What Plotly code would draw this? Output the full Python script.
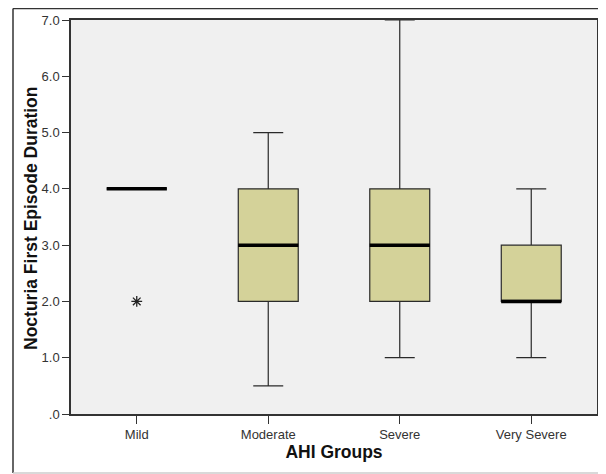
import plotly.graph_objects as go

categories = ["Mild", "Moderate", "Severe", "Very Severe"]
lower_whisker = [4.0, 0.5, 1.0, 1.0]
q1_vals = [4.0, 2.0, 2.0, 2.0]
medians = [4.0, 3.0, 3.0, 2.0]
q3_vals = [4.0, 4.0, 4.0, 3.0]
upper_whisker = [4.0, 5.0, 7.0, 4.0]
outlier_cats = ["Mild"]
outlier_vals = [2.0]

y_ticks = [0, 1, 2, 3, 4, 5, 6, 7]
y_ticklabels = [".0", "1.0", "2.0", "3.0", "4.0", "5.0", "6.0", "7.0"]

FONT = "Arial, Liberation Sans, sans-serif"

fig = go.Figure()
fig.add_trace(go.Box(
    x=categories, q1=q1_vals, median=medians, q3=q3_vals,
    lowerfence=lower_whisker, upperfence=upper_whisker,
    fillcolor="#d4d299", line=dict(color="#2a2a2a", width=1.2),
    width=0.456, whiskerwidth=0.5, boxpoints=False, showlegend=False,
    hoverinfo="skip",
))
# thick median lines
fig.add_trace(go.Scatter(
    x=categories, y=medians, mode="markers",
    marker=dict(symbol="line-ew", size=43, color="black", line=dict(color="black", width=3.5)),
    showlegend=False, hoverinfo="skip",
))
# extreme outlier
fig.add_trace(go.Scatter(
    x=outlier_cats, y=outlier_vals, mode="markers",
    marker=dict(symbol="asterisk-open", size=9, color="#222", line=dict(color="#222", width=1.3)),
    showlegend=False, hoverinfo="skip",
))

# page has an 8px body margin; figure sized so it fits the 606x474 window
OFF = 8
W, H = 606 - OFF, 474 - OFF
L, R, T, B = 71 - OFF, 9, 20 - OFF, 60
pw, ph = W - L - R, H - T - B

def px_x(p):
    return (p - OFF - L) / pw

def px_y(p):
    return (H - B - (p - OFF)) / ph

fig.update_layout(
    width=W, height=H,
    margin=dict(l=L, r=R, t=T, b=B, autoexpand=False),
    paper_bgcolor="white", plot_bgcolor="#f0f0f0",
    font=dict(family=FONT, color="#333"),
    xaxis=dict(
        type="category", categoryorder="array", categoryarray=categories,
        range=[-0.5, 3.5], showgrid=False, zeroline=False, automargin=False,
        showline=True, linecolor="#333", linewidth=1.5, mirror=True,
        ticks="outside", ticklen=8, tickcolor="#333", tickwidth=1.2,
        tickfont=dict(size=13, color="#333"),
        title=dict(text="<b>AHI Groups</b>", font=dict(size=17.5, color="#111"), standoff=2),
    ),
    yaxis=dict(
        range=[0, 7], tickvals=y_ticks, ticktext=y_ticklabels,
        showgrid=False, zeroline=False, automargin=False,
        showline=True, linecolor="#333", linewidth=1.5, mirror=True,
        ticks="outside", ticklen=7, tickcolor="#333", tickwidth=1.2,
        tickfont=dict(size=13, color="#333"),
    ),
    annotations=[
        dict(text="<b>Nocturia First Episode Duration</b>", textangle=-90,
             xref="paper", yref="paper", x=px_x(31), y=px_y(218),
             xanchor="center", yanchor="middle", showarrow=False,
             font=dict(size=17.5, color="#111")),
    ],
    shapes=[
        dict(type="line", xref="paper", yref="paper", x0=px_x(13), x1=px_x(606), y0=px_y(8.5), y1=px_y(8.5),
             line=dict(color="#333", width=1.5)),
        dict(type="line", xref="paper", yref="paper", x0=px_x(13), x1=px_x(13), y0=px_y(8.5), y1=px_y(473),
             line=dict(color="#333", width=1.5)),
        dict(type="line", xref="paper", yref="paper", x0=px_x(13), x1=px_x(606), y0=px_y(473), y1=px_y(473),
             line=dict(color="#ccc", width=1.5)),
    ],
)

fig.write_html("out.html")
